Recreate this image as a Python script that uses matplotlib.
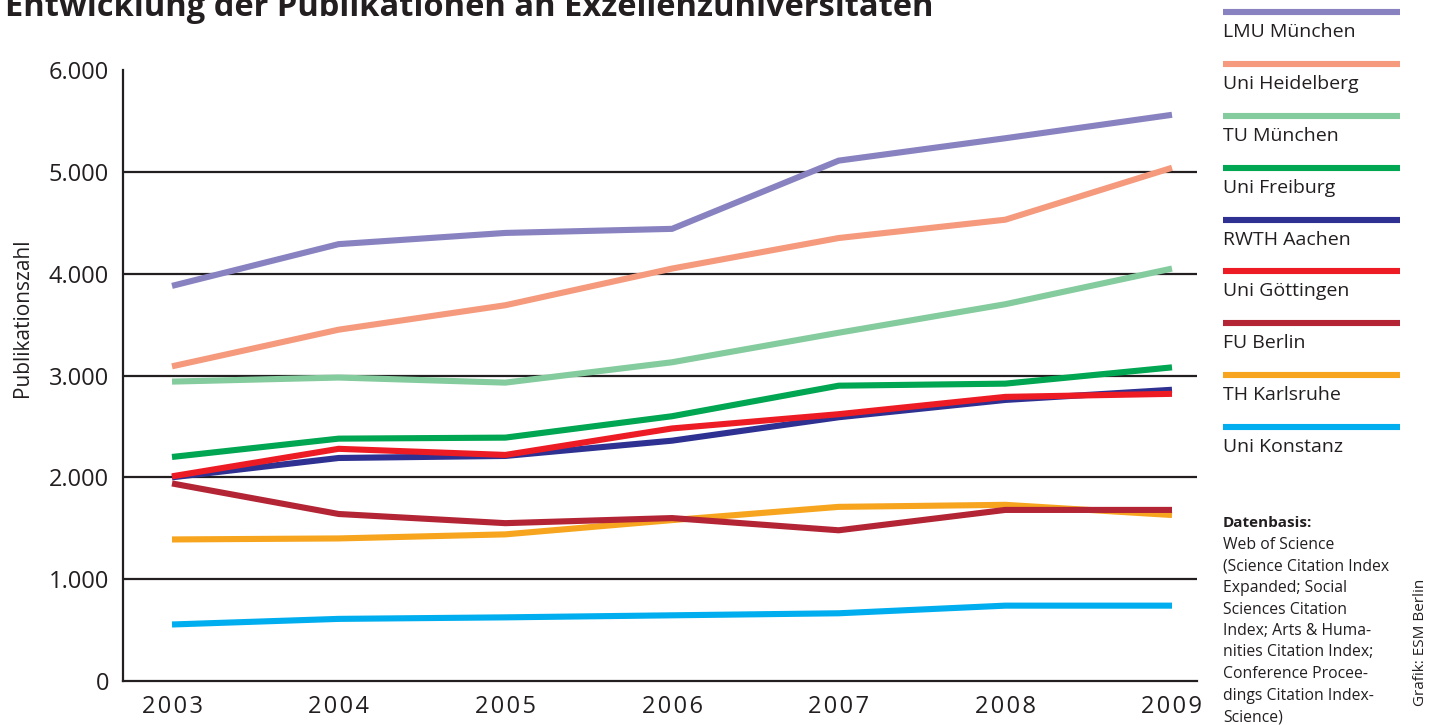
import numpy as np
import matplotlib
matplotlib.use("Agg")
import matplotlib.pyplot as plt
from matplotlib.lines import Line2D

plt.rcParams["font.family"] = ["Open Sans", "DejaVu Sans"]

# ---- data ----
years = [2003, 2004, 2005, 2006, 2007, 2008, 2009]
names = ["LMU München", "Uni Heidelberg", "TU München", "Uni Freiburg",
         "RWTH Aachen", "Uni Göttingen", "FU Berlin", "TH Karlsruhe",
         "Uni Konstanz"]
lmu = [3880, 4290, 4400, 4440, 5110, 5330, 5560]
heidelberg = [3090, 3450, 3690, 4050, 4350, 4530, 5040]
tum = [2940, 2980, 2930, 3130, 3420, 3700, 4050]
freiburg = [2200, 2380, 2390, 2600, 2900, 2920, 3080]
rwth = [2000, 2190, 2210, 2360, 2590, 2760, 2860]
goettingen = [2010, 2280, 2220, 2480, 2620, 2790, 2820]
fu_berlin = [1940, 1640, 1550, 1600, 1480, 1680, 1680]
karlsruhe = [1390, 1400, 1440, 1580, 1710, 1730, 1630]
konstanz = [555, 610, 625, 645, 665, 740, 740]
series = [lmu, heidelberg, tum, freiburg, rwth, goettingen,
          fu_berlin, karlsruhe, konstanz]
colors = ["#8882c0", "#f59a7d", "#84cb9e", "#00a651", "#2e3192",
          "#ed1c24", "#b32535", "#f7a51e", "#00aeef"]
yticks = [0, 1000, 2000, 3000, 4000, 5000, 6000]
ytick_labels = ["0", "1.000", "2.000", "3.000", "4.000", "5.000", "6.000"]
source_lines = ["Web of Science", "(Science Citation Index",
                "Expanded; Social", "Sciences Citation",
                "Index; Arts & Huma-", "nities Citation Index;",
                "Conference Procee-", "dings Citation Index-", "Science)"]

W, H = 1433, 725
ink = "#231f20"

fig = plt.figure(figsize=(W / 100, H / 100), dpi=100)
ax = fig.add_axes([123 / W, 1 - 681 / H, (1197 - 123) / W, (681 - 70) / H])

# draw order: FU Berlin on top of Karlsruhe, red on top of blue
order = [0, 1, 2, 3, 4, 5, 7, 6, 8]
for i in order:
    ax.plot(years, series[i], color=colors[i], lw=4.4,
            solid_capstyle="butt", solid_joinstyle="miter", zorder=3)

ax.set_xlim(2002.706, 2009.15)
ax.set_ylim(0, 6000)
ax.set_yticks(yticks)
ax.set_yticklabels(ytick_labels, fontsize=17, color=ink)
ax.set_xticks(years)
ax.set_xticklabels(["\u200a".join(str(y)) for y in years], fontsize=17,
                   color=ink)
ax.tick_params(axis="both", length=0)
ax.tick_params(axis="y", pad=10)
ax.tick_params(axis="x", pad=10)
for s in ["top", "right"]:
    ax.spines[s].set_visible(False)
for s in ["left", "bottom"]:
    ax.spines[s].set_color(ink)
    ax.spines[s].set_linewidth(1.6)
for v in yticks[1:-1]:
    ax.axhline(v, color=ink, lw=1.6, zorder=2)
ax.set_ylabel("Publikationszahl", fontsize=15, color=ink)
ax.yaxis.set_label_coords(-(123 - 33) / (1197 - 123), (681 - 318) / (681 - 70))

# title, partly cut at the top edge as in the source
fig.text(5 / W, 1 - 16 / H,
         "Entwicklung der Publikationen an Exzellenzuniversitäten",
         fontweight="bold", fontsize=23.5, color=ink,
         va="baseline", ha="left")

# legend: coloured bar with label below
for i, (name, c) in enumerate(zip(names, colors)):
    y = 12 + i * 51.9
    fig.add_artist(Line2D([1223 / W, 1400 / W], [1 - y / H, 1 - y / H],
                          transform=fig.transFigure, color=c, lw=4.4,
                          solid_capstyle="butt"))
    fig.text(1223 / W, 1 - (y + 25) / H, name, fontsize=14, color=ink,
             va="baseline", ha="left")

# source note
fig.text(1223 / W, 1 - 523 / H, "Datenbasis:", fontsize=11,
         fontweight="bold", color=ink, va="center", ha="left")
for k, line in enumerate(source_lines):
    fig.text(1223 / W, 1 - (545 + k * 21.5) / H, line, fontsize=11.3,
             color=ink, va="center", ha="left")
fig.text(1421 / W, 1 - 642 / H, "Grafik: ESM Berlin", fontsize=11,
         color=ink, rotation=90, va="center", ha="center")

fig.savefig("out.png", dpi=100)
